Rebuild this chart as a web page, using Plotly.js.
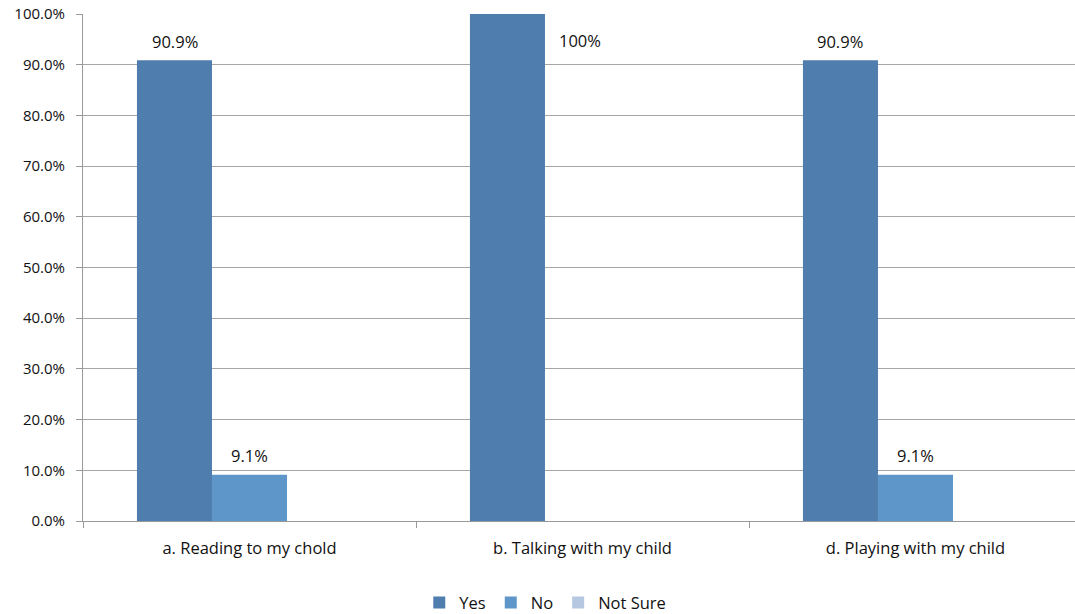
<!DOCTYPE html>
<html>
<head>
<meta charset="utf-8">
<script src="https://cdn.plot.ly/plotly-3.0.1.min.js"></script>
<style>html,body{margin:0;padding:0;background:#fff;}#chart{width:1075px;height:614px;}</style>
</head>
<body>
<div id="chart"></div>
<script>
var categories = ["a. Reading to my chold", "b. Talking with my child", "d. Playing with my child"];
var seriesNames = ["Yes", "No", "Not Sure"];
var yesValues = [0.909, 1.0, 0.909];
var noValues = [0.091, 0, 0.091];
var notSureValues = [0, 0, 0];
var yTickVals = [0, 0.1, 0.2, 0.3, 0.4, 0.5, 0.6, 0.7, 0.8, 0.9, 1.0];
var yTickText = ["0.0%", "10.0%", "20.0%", "30.0%", "40.0%", "50.0%", "60.0%", "70.0%", "80.0%", "90.0%", "100.0%"];
var colors = ["#4F7DAE", "#5F96CA", "#B6C7E1"];

var FONT = "'Open Sans', sans-serif";
var FS = 16.5;
var allValues = [yesValues, noValues, notSureValues];
var traces = allValues.map(function (vals, i) {
  return {
    type: "bar", name: seriesNames[i], x: categories, y: vals,
    marker: {color: colors[i], line: {width: 0}},
    hoverinfo: "none"
  };
});

function fmt(v) { return parseFloat((v * 100).toFixed(1)) + "%"; }
var annotations = [];
var slot = 75;
allValues.forEach(function (vals, si) {
  vals.forEach(function (v, ci) {
    if (v <= 0) return;
    var off = (si - 1) * slot;
    var ys = 19;
    if (v >= 1) { off += slot - 3; ys = -26; }
    annotations.push({
      x: categories[ci], y: v, xref: "x", yref: "y", text: fmt(v),
      showarrow: false, xshift: off, yshift: ys,
      font: {family: FONT, size: FS, color: "#111"}
    });
  });
});

var layout = {
  width: 1075, height: 614,
  margin: {l: 83, r: 0, t: 14, b: 93, autoexpand: false},
  paper_bgcolor: "#fff", plot_bgcolor: "#fff",
  barmode: "group", bargap: 0.324, bargroupgap: 0,
  showlegend: true,
  legend: {orientation: "h", x: 0.466, xanchor: "center", y: -0.127, yanchor: "top",
           font: {family: FONT, size: FS, color: "#111"}, itemwidth: 30, tracegroupgap: 0},
  xaxis: {
    type: "category", range: [-0.5, 2.479], tickson: "boundaries",
    ticks: "outside", ticklen: 6, tickcolor: "#999", tickwidth: 1,
    showline: true, linecolor: "#999", linewidth: 1, showgrid: false,
    tickfont: {family: FONT, size: FS, color: "#111"}, ticklabelstandoff: 12, automargin: false
  },
  yaxis: {
    range: [0, 1], tickvals: yTickVals, ticktext: yTickText,
    ticks: "outside", ticklen: 6, tickcolor: "#999",
    showline: true, linecolor: "#999", linewidth: 1,
    showgrid: true, gridcolor: "#A6A6A6", gridwidth: 1, zeroline: false,
    tickfont: {family: FONT, size: 15, color: "#111"}, ticklabelstandoff: 8, automargin: false
  },
  annotations: annotations
};
Plotly.newPlot("chart", traces, layout, {displayModeBar: false, staticPlot: true});
</script>
</body>
</html>
